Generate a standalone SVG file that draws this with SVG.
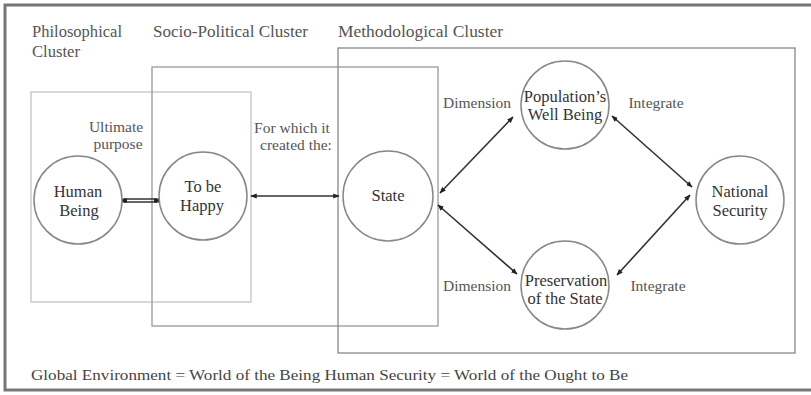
<svg xmlns="http://www.w3.org/2000/svg" width="811" height="395" viewBox="0 0 811 395">
<style>
.hdr{font-size:16px;fill:#555;}
.lbl{font-size:15.5px;fill:#555;text-anchor:middle;}
.nd{font-size:16.5px;fill:#333;text-anchor:middle;}
.node{fill:#fff;stroke:#888;stroke-width:1.5;}
.con{stroke:#333;stroke-width:1.6;fill:none;marker-start:url(#ah);marker-end:url(#ah);}
</style>
<defs>
<marker id="ah" viewBox="0 0 10 10" refX="9" refY="5" markerWidth="4" markerHeight="4" orient="auto-start-reverse" markerUnits="strokeWidth">
<path d="M0,1 L10,5 L0,9 Z" fill="#222"/>
</marker>
</defs>
<rect width="811" height="395" fill="#fff"/>
<rect x="5" y="5" width="830" height="385" fill="none" stroke="#777" stroke-width="3"/>
<g id="clusters" fill="none">
<rect x="31" y="92" width="220" height="210" stroke="#ccc" stroke-width="1.5"/>
<rect x="152" y="67" width="286" height="259" stroke="#999" stroke-width="1.3"/>
<rect x="338" y="48" width="457" height="305" stroke="#888" stroke-width="1.3"/>
</g>
<g font-family="'Liberation Serif', 'Times New Roman', 'DejaVu Serif', 'Noto Serif', serif">
<g id="headers">
<text class="hdr" x="32" y="37" textLength="90" lengthAdjust="spacingAndGlyphs">Philosophical</text>
<text class="hdr" x="32" y="57" textLength="48" lengthAdjust="spacingAndGlyphs">Cluster</text>
<text class="hdr" x="153" y="37" textLength="155" lengthAdjust="spacingAndGlyphs">Socio-Political Cluster</text>
<text class="hdr" x="338" y="37" textLength="165" lengthAdjust="spacingAndGlyphs">Methodological Cluster</text>
</g>
<g id="connectors">
<line x1="124" y1="199" x2="157" y2="199" stroke="#333" stroke-width="1.3"/>
<line x1="124" y1="202" x2="157" y2="202" stroke="#333" stroke-width="1.3"/>
<path d="M127,200.5 L121,200.5 M154,200.5 L160,200.5" stroke="#222" stroke-width="4"/>
<line class="con" x1="251" y1="196" x2="339" y2="196"/>
<line class="con" x1="440" y1="193" x2="513" y2="117"/>
<line class="con" x1="438" y1="205" x2="517" y2="274"/>
<line class="con" x1="612" y1="116" x2="692" y2="187"/>
<line class="con" x1="617" y1="275" x2="690" y2="195"/>
</g>
<g id="labels">
<text class="lbl" x="116" y="132">Ultimate</text>
<text class="lbl" x="118" y="149">purpose</text>
<text class="lbl" x="292" y="133">For which it</text>
<text class="lbl" x="296" y="150">created the:</text>
<text class="lbl" x="477" y="108">Dimension</text>
<text class="lbl" x="477" y="291">Dimension</text>
<text class="lbl" x="656" y="108">Integrate</text>
<text class="lbl" x="658" y="291">Integrate</text>
</g>
<g id="human-being">
<circle class="node" cx="78" cy="200" r="44"/>
<text class="nd" x="78" y="197">Human</text>
<text class="nd" x="79" y="216">Being</text>
</g>
<g id="to-be-happy">
<circle class="node" cx="203" cy="196" r="44"/>
<text class="nd" x="203" y="192">To be</text>
<text class="nd" x="202" y="211">Happy</text>
</g>
<g id="state">
<circle class="node" cx="388" cy="196" r="45"/>
<text class="nd" x="388" y="201">State</text>
</g>
<g id="populations-well-being">
<circle class="node" cx="565" cy="105" r="44"/>
<text class="nd" x="565" y="102">Population’s</text>
<text class="nd" x="565" y="120">Well Being</text>
</g>
<g id="preservation-of-the-state">
<circle class="node" cx="565" cy="285" r="44"/>
<text class="nd" x="566" y="286">Preservation</text>
<text class="nd" x="565" y="304">of the State</text>
</g>
<g id="national-security">
<circle class="node" cx="740" cy="200" r="44"/>
<text class="nd" x="740" y="197">National</text>
<text class="nd" x="740" y="216">Security</text>
</g>
<text x="31" y="380" font-size="15.5" fill="#444" textLength="597" lengthAdjust="spacingAndGlyphs">Global Environment = World of the Being Human Security = World of the Ought to Be</text>
</g>
</svg>
